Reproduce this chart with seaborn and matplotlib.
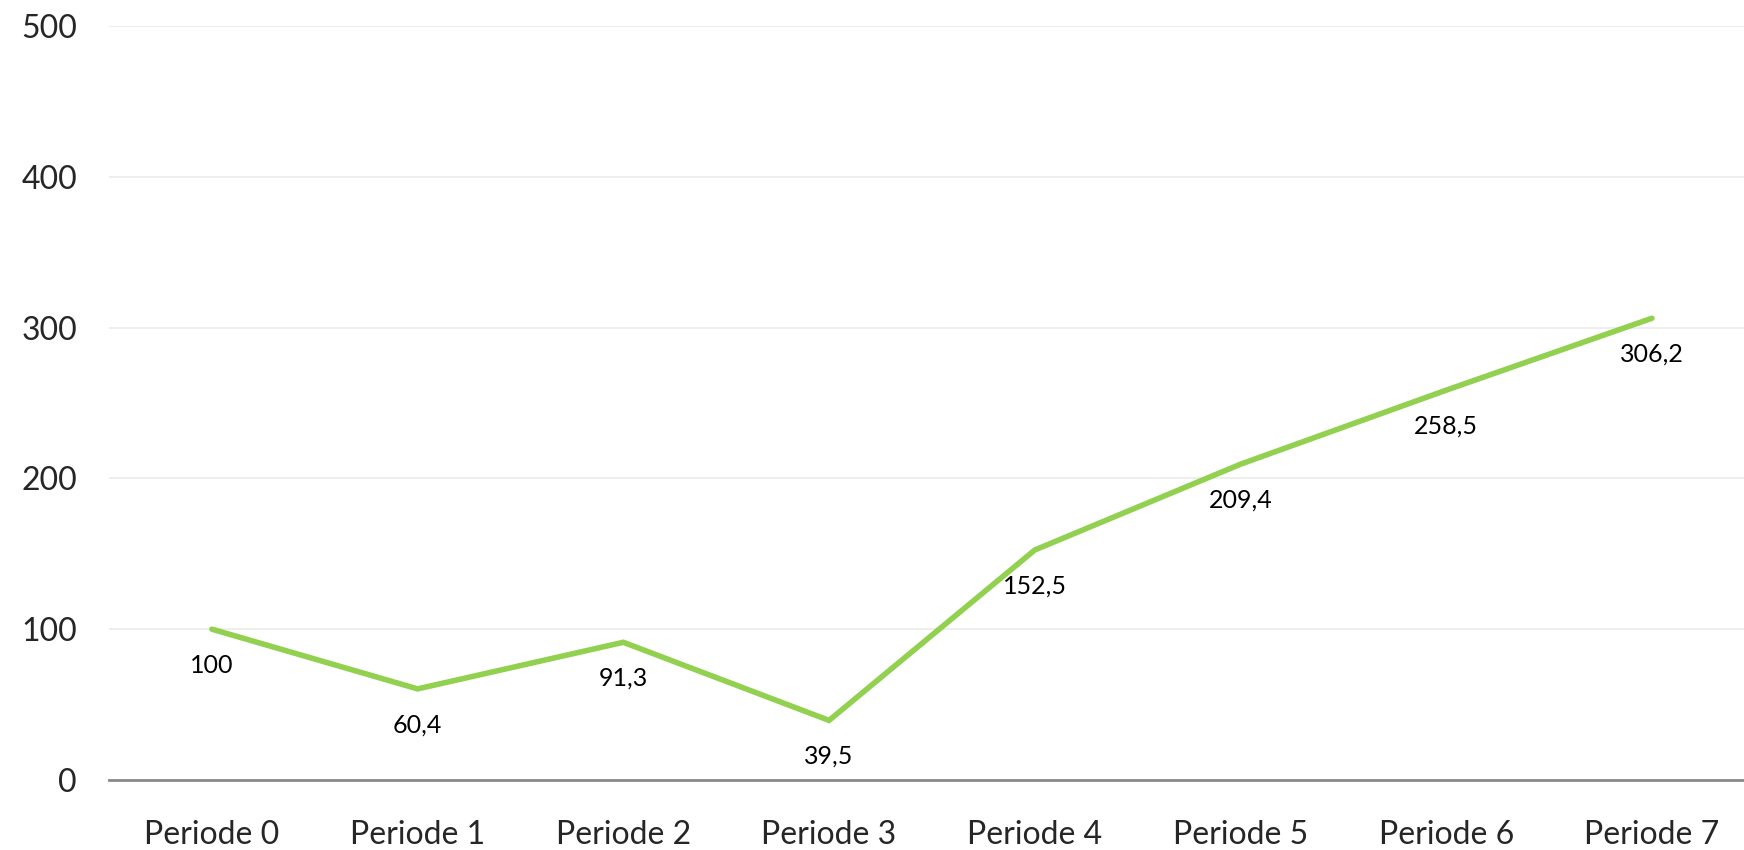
import pandas as pd
import numpy as np
import matplotlib.pyplot as plt
import seaborn as sns

periods = ["Periode 0", "Periode 1", "Periode 2", "Periode 3",
           "Periode 4", "Periode 5", "Periode 6", "Periode 7"]
values = [100, 60.4, 91.3, 39.5, 152.5, 209.4, 258.5, 306.2]
y_ticks = [0, 100, 200, 300, 400, 500]


def plot_line(df):
    sns.set_style("white")
    plt.rcParams['font.family'] = ['Lato', 'DejaVu Sans']

    fig = plt.figure(figsize=(17.44, 8.5), dpi=100)
    # axes runs a bit past the right edge, like the original
    ax = fig.add_axes([0.0625, 0.0824, 0.9437, 0.8870])

    sns.lineplot(data=df, x="period", y="value", ax=ax, color="#92D050",
                 linewidth=4.0, sort=False, solid_capstyle="round",
                 solid_joinstyle="miter")

    for i, v in enumerate(df["value"]):
        lab = ("%g" % v).replace(".", ",")
        ax.annotate(lab, (i, v), xytext=(0, -26), textcoords="offset points",
                    ha="center", va="center", fontsize=18, color="black")

    ax.set_xlim(-0.5, len(df) - 0.5)
    ax.set_ylim(0, 500)
    ax.set_yticks(y_ticks)
    ax.yaxis.grid(True, color="#EDEDED", linewidth=1.3)
    ax.set_axisbelow(True)
    ax.tick_params(axis="y", labelsize=23, length=0, pad=23)
    ax.tick_params(axis="x", labelsize=23, length=0, pad=29)
    ax.set_xlabel("")
    ax.set_ylabel("")
    for s in ["top", "right", "left"]:
        ax.spines[s].set_visible(False)
    ax.spines["bottom"].set_color("#898989")
    ax.spines["bottom"].set_linewidth(2)

    fig.savefig("out.png", dpi=100)


if __name__ == '__main__':
    df = pd.DataFrame({"period": periods, "value": values})
    plot_line(df)
